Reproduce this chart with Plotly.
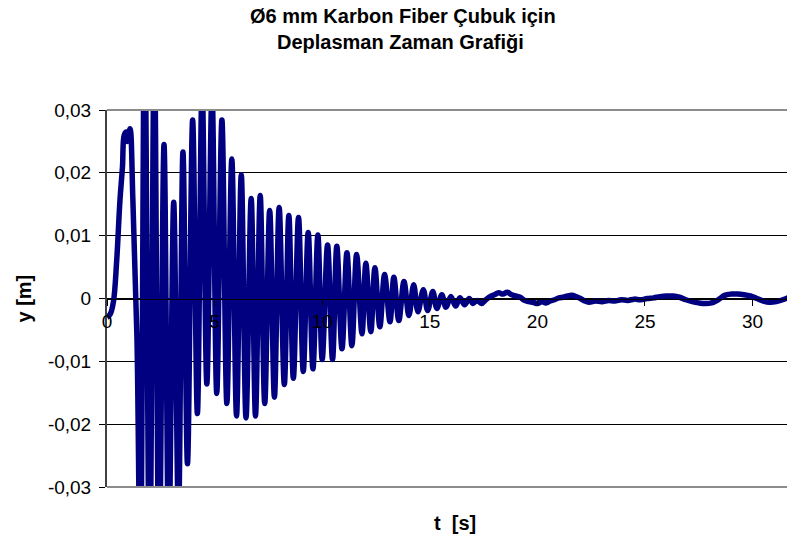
import plotly.graph_objects as go

# --- data (time in s, displacement in m) ---
t_start = [0.0, 0.15, 0.3, 0.45, 0.6, 0.72, 0.8, 0.9, 0.95, 1.07, 1.2, 1.39]
y_start = [-0.003, -0.0025, -0.0005, 0.006, 0.0155, 0.021, 0.026, 0.0265, 0.025, 0.027, 0.016, -0.006]

t_osc = [1.55, 1.75, 1.98, 2.2, 2.42, 2.65, 2.87, 3.1, 3.32, 3.53, 3.74, 3.98,
         4.2, 4.42, 4.64, 4.88, 5.1, 5.34, 5.57, 5.8, 6.02, 6.24, 6.46, 6.7,
         6.9, 7.12, 7.33, 7.56, 7.78, 8.0, 8.24, 8.45, 8.66, 8.9, 9.12, 9.35,
         9.57, 9.8, 10.0, 10.25, 10.48, 10.68, 10.92, 11.15, 11.38, 11.6, 11.85, 12.03,
         12.26, 12.45, 12.68, 12.9, 13.15, 13.33, 13.56, 13.8, 14.03, 14.25, 14.45, 14.7,
         14.9, 15.14, 15.33, 15.56, 15.75, 15.98, 16.2, 16.4, 16.62, 16.83, 17.0, 17.2]
y_osc = [-0.045, 0.045, -0.045, 0.04, -0.045, 0.0245, -0.04, 0.0153, -0.035, 0.0233, -0.0263, 0.0284,
         -0.0183, 0.034, -0.0136, 0.033, -0.0151, 0.0284, -0.0167, 0.0222, -0.0187, 0.0197, -0.019, 0.0159,
         -0.0187, 0.0164, -0.0167, 0.014, -0.0157, 0.0145, -0.0137, 0.0132, -0.0127, 0.0129, -0.0116, 0.0105,
         -0.0112, 0.0101, -0.0097, 0.0085, -0.0097, 0.0083, -0.008, 0.0073, -0.0075, 0.007, -0.0056, 0.0056,
         -0.0053, 0.0049, -0.0045, 0.0038, -0.0037, 0.0034, -0.0035, 0.0027, -0.0027, 0.0022, -0.0021, 0.0014,
         -0.0019, 0.0011, -0.0016, 0.0006, -0.0014, 0.0003, -0.0012, 0.0001, -0.001, 0.0, -0.0008, -0.0003]

t_tail = [17.4, 17.6, 17.8, 18.0, 18.2, 18.4, 18.6, 18.8, 19.0, 19.2, 19.4, 19.6, 19.8, 20.0,
          20.2, 20.4, 20.6, 20.8, 21.0, 21.2, 21.4, 21.6, 21.8, 22.0, 22.2, 22.4, 22.7, 23.0,
          23.3, 23.6, 23.9, 24.2, 24.5, 24.8, 25.1, 25.4, 25.7, 26.0, 26.3, 26.6, 26.9, 27.2,
          27.5, 27.8, 28.1, 28.4, 28.7, 29.0, 29.3, 29.6, 29.9, 30.2, 30.5, 30.8, 31.1, 31.4, 31.7]
y_tail = [-0.0008, -0.0002, 0.0003, 0.0006, 0.0009, 0.0007, 0.001, 0.0006, 0.0004, 0.0002, -0.0003, -0.0005, -0.0006, -0.0008,
          -0.0005, -0.0007, -0.0004, -0.0002, 0.0001, 0.0002, 0.0004, 0.0005, 0.0003, 0.0, -0.0004, -0.0006, -0.0004, -0.0005,
          -0.0003, -0.0004, -0.0002, -0.0003, -0.0001, -0.0002, 0.0, 0.0001, 0.0003, 0.0004, 0.0004, 0.0002, -0.0002, -0.0005,
          -0.0007, -0.0008, -0.0007, -0.0002, 0.0005, 0.0007, 0.0007, 0.0006, 0.0004, 0.0, -0.0004, -0.0006, -0.0005, -0.0002, 0.0002]

t_s = t_start + t_osc + t_tail
y_m = y_start + y_osc + y_tail

y_ticks = [-0.03, -0.02, -0.01, 0, 0.01, 0.02, 0.03]
y_tick_text = ["-0,03", "-0,02", "-0,01", "0", "0,01", "0,02", "0,03"]
x_ticks = [0, 5, 10, 15, 20, 25, 30]

title_1 = "Ø6 mm Karbon Fiber Çubuk için"
title_2 = "Deplasman Zaman Grafiği"
x_title = "t  [s]"
y_title = "y [m]"

FONT = "Liberation Sans, Arial, sans-serif"

fig = go.Figure()
fig.add_trace(go.Scatter(
    x=t_s, y=y_m, mode="lines",
    line=dict(color="#000080", width=5.5, shape="spline", smoothing=1.0),
    hoverinfo="skip", showlegend=False,
))

fig.update_layout(
    width=787, height=545,
    margin=dict(l=107, r=0, t=110, b=58),
    paper_bgcolor="white", plot_bgcolor="white",
    font=dict(family=FONT, size=19, color="black"),
    xaxis=dict(
        range=[0, 31.6], anchor="free", position=0.5,
        tickvals=x_ticks, ticktext=[str(v) for v in x_ticks],
        showgrid=False, zeroline=False,
        showline=True, linecolor="black", linewidth=1,
        ticks="outside", ticklen=6, tickcolor="black",
        tickfont=dict(family=FONT, size=19, color="black"),
    ),
    yaxis=dict(
        range=[-0.03, 0.03], domain=[0, 1],
        tickvals=y_ticks, ticktext=y_tick_text,
        showgrid=True, gridcolor="black", gridwidth=1,
        zeroline=False,
        showline=True, linecolor="#404040", linewidth=2,
        ticks="outside", ticklen=6, tickcolor="black",
        ticklabelstandoff=4,
        tickfont=dict(family=FONT, size=19, color="black"),
    ),
    shapes=[
        dict(type="line", xref="paper", yref="paper", x0=0, x1=1, y0=1, y1=1,
             line=dict(color="#8c8c8c", width=2), layer="above"),
        dict(type="line", xref="paper", yref="paper", x0=0, x1=1, y0=0, y1=0,
             line=dict(color="#8c8c8c", width=2), layer="above"),
    ],
    annotations=[
        dict(text="<b>" + title_1 + "</b>", xref="paper", yref="paper",
             x=(403 - 107) / 680, y=(487 - 16) / 377, xanchor="center", yanchor="middle",
             showarrow=False, font=dict(family=FONT, size=20, color="black")),
        dict(text="<b>" + title_2 + "</b>", xref="paper", yref="paper",
             x=(400 - 107) / 680, y=(487 - 42) / 377, xanchor="center", yanchor="middle",
             showarrow=False, font=dict(family=FONT, size=20, color="black")),
        dict(text="<b>" + x_title + "</b>", xref="paper", yref="paper",
             x=(455 - 107) / 680, y=(487 - 523) / 377, xanchor="center", yanchor="middle",
             showarrow=False, font=dict(family=FONT, size=20, color="black")),
        dict(text="<b>" + y_title + "</b>", xref="paper", yref="paper",
             x=(23 - 107) / 680, y=0.5, xanchor="center", yanchor="middle", textangle=-90,
             showarrow=False, font=dict(family=FONT, size=20, color="black")),
    ],
)

fig.write_html("out.html")
